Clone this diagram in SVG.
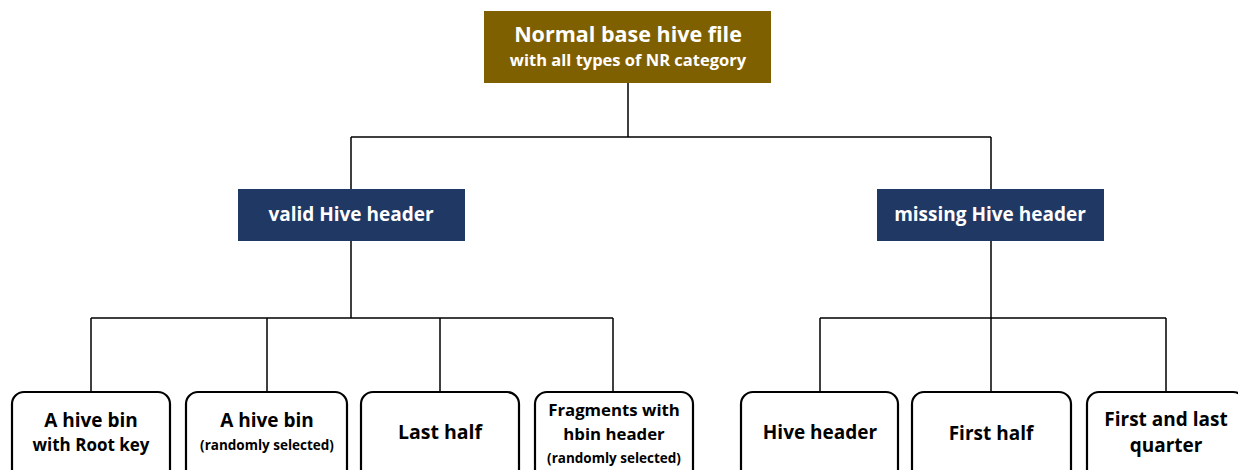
<svg xmlns="http://www.w3.org/2000/svg" width="1238" height="470" viewBox="0 0 1238 470">
<style>
.conn{stroke:#000;stroke-width:1.5;fill:none}
.top{fill:#7F6000}
.mid{fill:#1F3864}
.leaf{fill:#fff;stroke:#000;stroke-width:2.2}
.t{font-family:"Open Sans","Liberation Sans",sans-serif;font-weight:bold;text-anchor:middle}
.w{fill:#fff}
.k{fill:#000}
</style>
<rect width="1238" height="470" fill="#fff"/>
<g id="connectors">
<path class="conn" d="M628 83V137M351 137H991M351 137V189M991 137V189"/>
<path class="conn" d="M351 241V318M91 318H613M91 318V392M267 318V392M440 318V392M613 318V392"/>
<path class="conn" d="M991 241V318M820 318H1166M820 318V392M991 318V392M1166 318V392"/>
</g>
<g id="root">
<rect class="top" x="484" y="11" width="287" height="72"/>
<text class="t w" x="628" y="42" font-size="21.5">Normal base hive file</text>
<text class="t w" x="628" y="66" font-size="16.5">with all types of NR category</text>
</g>
<g id="valid">
<rect class="mid" x="238" y="189" width="227" height="52"/>
<text class="t w" x="351" y="221" font-size="19">valid Hive header</text>
</g>
<g id="missing">
<rect class="mid" x="877" y="189" width="227" height="52"/>
<text class="t w" x="990" y="221" font-size="19">missing Hive header</text>
</g>
<g id="leaf1">
<rect class="leaf" x="12" y="392" width="158" height="95" rx="12"/>
<text class="t k" x="91" y="427" font-size="19">A hive bin</text>
<text class="t k" x="91" y="451" font-size="17">with Root key</text>
</g>
<g id="leaf2">
<rect class="leaf" x="186" y="392" width="161" height="95" rx="12"/>
<text class="t k" x="267" y="427" font-size="19">A hive bin</text>
<text class="t k" x="267" y="450" font-size="13.5">(randomly selected)</text>
</g>
<g id="leaf3">
<rect class="leaf" x="361" y="392" width="158" height="95" rx="12"/>
<text class="t k" x="440" y="439" font-size="19.5">Last half</text>
</g>
<g id="leaf4">
<rect class="leaf" x="535" y="392" width="158" height="95" rx="12"/>
<text class="t k" x="614" y="416" font-size="16.8">Fragments with</text>
<text class="t k" x="614" y="440" font-size="16.8">hbin header</text>
<text class="t k" x="614" y="463" font-size="13.5">(randomly selected)</text>
</g>
<g id="leaf5">
<rect class="leaf" x="741" y="392" width="157" height="95" rx="12"/>
<text class="t k" x="820" y="439" font-size="19">Hive header</text>
</g>
<g id="leaf6">
<rect class="leaf" x="912" y="392" width="159" height="95" rx="12"/>
<text class="t k" x="991" y="440" font-size="19">First half</text>
</g>
<g id="leaf7">
<rect class="leaf" x="1087" y="392" width="158" height="95" rx="12"/>
<text class="t k" x="1166" y="426" font-size="19">First and last</text>
<text class="t k" x="1166" y="452" font-size="19">quarter</text>
</g>
</svg>
